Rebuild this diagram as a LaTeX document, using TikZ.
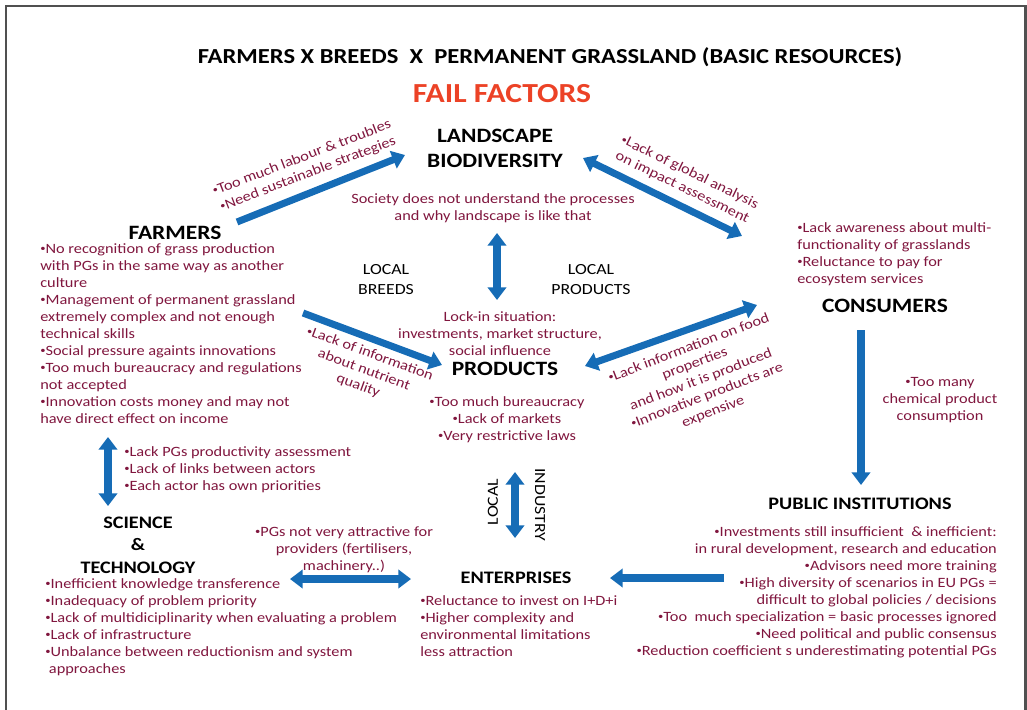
\documentclass[tikz,border=0pt]{standalone}
\usepackage{fontspec}
\setmainfont{Carlito}[FakeStretch=1.15]
\usepackage{graphicx}
\usepackage{tikz}
\usetikzlibrary{positioning}
\usetikzlibrary{arrows.meta}
\definecolor{noteRed}{RGB}{128,22,62}
\definecolor{flowBlue}{RGB}{22,108,182}
\definecolor{failRed}{RGB}{236,66,38}
\definecolor{frameGray}{RGB}{80,80,80}
\newcommand{\bu}{\raisebox{0.12em}{\scalebox{0.65}{•}}}
\tikzset{>=latex}
\tikzset{
  flow/.style={draw=flowBlue, line width=5pt, -{Triangle[length=9pt,width=13pt]}},
  flowboth/.style={flow, {Triangle[length=9pt,width=13pt]}-{Triangle[length=9pt,width=13pt]}},
  actor/.style={font=\bfseries\fontsize{14.5}{17.8}\selectfont, align=center, inner sep=0pt},
  actorsmall/.style={font=\bfseries\fontsize{12.5}{16}\selectfont, align=center, inner sep=0pt},
  note/.style={text=noteRed, font=\fontsize{10.1}{12.1}\selectfont, inner sep=0pt},
  tag/.style={font=\fontsize{11}{14.2}\selectfont, align=center, inner sep=0pt},
}

\begin{document}
\begin{tikzpicture}[x=0.025cm, y=-0.025cm]

% Frame
\useasboundingbox (0,0) rectangle (1027,710);
\draw[frameGray, line width=1.8pt] (6,710) -- (6,6) -- (1025.5,6) -- (1025.5,710);

% Title
\node[font=\bfseries\fontsize{15.2}{17}\selectfont] (title) at (550,57)
  {FARMERS X BREEDS \ X \ PERMANENT GRASSLAND (BASIC RESOURCES)};
\node[font=\bfseries\fontsize{19.6}{22}\selectfont, text=failRed] (fail) at (502,94) {FAIL FACTORS};

% Actors
\node[actor] (landscape) at (495,148) {LANDSCAPE\\BIODIVERSITY};
\node[actor] (farmers) at (175,233) {FARMERS};
\node[actor] (products) at (505,369) {PRODUCTS};
\node[actor] (consumers) at (885,306) {CONSUMERS};
\node[actorsmall] (public) at (860,504) {PUBLIC INSTITUTIONS};
\node[actorsmall] (enterprises) at (516,578) {ENTERPRISES};
\node[actorsmall] (science) at (138,545) {SCIENCE\\\&\\TECHNOLOGY};

% Local labels
\node[tag] (breeds) at (386,280) {LOCAL\\BREEDS};
\node[tag] (localprod) at (591,280) {LOCAL\\PRODUCTS};
\node[tag, rotate=90] (local) at (493,502) {LOCAL};
\node[tag, rotate=-90] (industry) at (540,505) {INDUSTRY};

% Notes
\node[note, align=center, anchor=north] (society) at (493,193)
  {Society does not understand the processes\\and why landscape is like that};
\node[note, align=center, anchor=north] (lockin) at (500,311)
  {Lock-in situation:\\investments, market structure,\\social influence};
\node[note, align=center, anchor=north] (prodnotes) at (507,396)
  {\bu Too much bureaucracy\\\bu Lack of markets\\\bu Very restrictive laws};
\node[note, align=left, anchor=north west] (farmnotes) at (40,243)
  {\bu No recognition of grass production\\with PGs in the same way as another\\culture\\
   \bu Management of permanent grassland\\extremely complex and not enough\\technical skills\\
   \bu Social pressure againts innovations\\
   \bu Too much bureaucracy and regulations\\not accepted\\
   \bu Innovation costs money and may not\\have direct effect on income};
\node[note, align=left, anchor=north west] (consnotes) at (797,222)
  {\bu Lack awareness about multi-\\functionality of grasslands\\\bu Reluctance to pay for\\ecosystem services};
\node[note, align=center, anchor=north] (chemical) at (940,377)
  {\bu Too many\\chemical product\\consumption};
\node[note, align=left, anchor=north west] (links) at (124,446)
  {\bu Lack PGs productivity assessment\\\bu Lack of links between actors\\\bu Each actor has own priorities};
\node[note, align=left, anchor=north west] (scinotes) at (45,578)
  {\bu Inefficient knowledge transference\\
   \bu Inadequacy of problem priority\\
   \bu Lack of multidiciplinarity when evaluating a problem\\
   \bu Lack of infrastructure\\
   \bu Unbalance between reductionism and system\\\ approaches};
\node[note, align=center, anchor=north] (providers) at (344,526)
  {\bu PGs not very attractive for\\providers (fertilisers,\\machinery..)};
\node[note, align=left, anchor=north west] (entnotes) at (420,595)
  {\bu Reluctance to invest on I+D+i\\\bu Higher complexity and\\environmental limitations\\less attraction};
\node[note, align=right, anchor=north east] (pubnotes) at (997,526)
  {\bu Investments still insufficient \ \& inefficient:\\
   in rural development, research and education\\
   \bu Advisors need more training\\
   \bu High diversity of scenarios in EU PGs =\\
   difficult to global policies / decisions\\
   \bu Too \ much specialization = basic processes ignored\\
   \bu Need political and public consensus\\
   \bu Reduction coefficient s underestimating potential PGs};

% Notes along the arrows
\node[note, align=center, rotate=21] (labour) at (305,166)
  {\bu Too much labour \& troubles\\\bu Need sustainable strategies};
\node[note, align=center, rotate=-26] (global) at (686,180)
  {\bu Lack of global analysis\\on impact assessment};
\node[note, align=center, rotate=-20] (nutrient) at (364,370)
  {\bu Lack of information\\about nutrient\\quality};
\node[note, align=center, rotate=21] (food) at (701,380)
  {\bu Lack information on food\\properties\\and how it is produced\\\bu Innovative products are\\expensive};

% Arrow ends
\coordinate (farmers-out) at (237,222);
\coordinate (landscape-in) at (405,155);
\coordinate (landscape-right) at (583,158);
\coordinate (consumers-up) at (742,236);
\coordinate (landscape-down) at (497,233);
\coordinate (products-up) at (497,300);
\coordinate (farmers-low) at (303,313);
\coordinate (products-in) at (442,365);
\coordinate (products-right) at (585,366);
\coordinate (consumers-left) at (757,305);
\coordinate (consumers-down) at (861,330);
\coordinate (public-in) at (861,485);
\coordinate (farmers-down) at (108,437);
\coordinate (science-up) at (108,506);
\coordinate (science-right) at (290,579);
\coordinate (enterprises-left) at (411,579);
\coordinate (products-down) at (515,472);
\coordinate (enterprises-up) at (515,538);
\coordinate (public-out) at (724,578);
\coordinate (enterprises-in) at (610,578);

% Arrows
\draw[flow] (farmers-out) -- (landscape-in);
\draw[flowboth] (landscape-right) -- (consumers-up);
\draw[flowboth] (landscape-down) -- (products-up);
\draw[flow] (farmers-low) -- (products-in);
\draw[flowboth] (products-right) -- (consumers-left);
\draw[flow] (consumers-down) -- (public-in);
\draw[flowboth] (farmers-down) -- (science-up);
\draw[flowboth] (science-right) -- (enterprises-left);
\draw[flowboth] (products-down) -- (enterprises-up);
\draw[flow] (public-out) -- (enterprises-in);

\end{tikzpicture}
\end{document}
